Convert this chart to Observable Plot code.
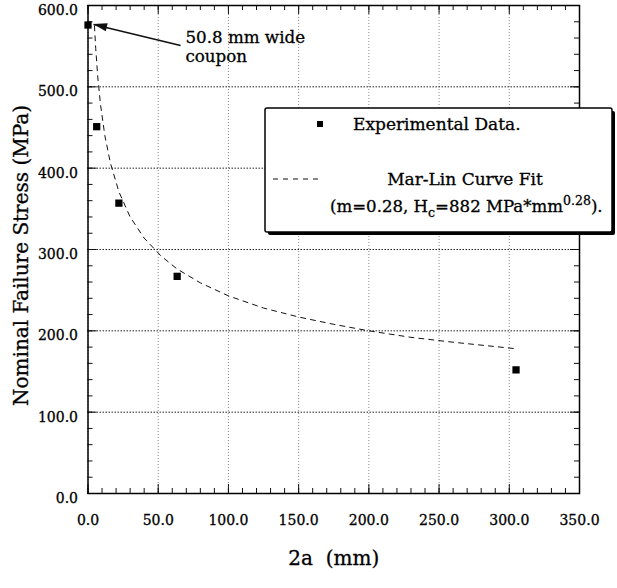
<!DOCTYPE html>
<html>
<head>
<meta charset="utf-8">
<script src="https://cdn.jsdelivr.net/npm/d3@7"></script>
<script src="https://cdn.jsdelivr.net/npm/@observablehq/plot@0.6"></script>
<style>
  body { margin: 0; background: #fff; }
  svg { display: block; }
  /* slightly heavier type, like the printed original */
  #chart svg text { stroke: #000; stroke-width: 0.3px; }
</style>
</head>
<body>
<div id="chart"></div>
<script>
// Measured coupons: crack length 2a (mm) vs nominal failure stress (MPa)
const crackLength = [0, 6.2, 22, 63.5, 304.8];
const failureStress = [576, 451, 357, 267, 152];

// Mar-Lin fit curve, sampled along the dashed line
const fitLength = [4.6, 5.5, 7, 9, 12, 16, 22, 30, 40, 52, 63.5, 80, 100, 125, 150, 175, 200, 230, 260, 304.8];
const fitStress = [575, 547, 511, 477, 440, 406, 371, 340, 314, 292, 276, 259, 243, 228, 217, 208, 200, 192, 186, 178];

// Axis ticks
const xTicks = [0, 50, 100, 150, 200, 250, 300, 350];
const yTicks = [0, 100, 200, 300, 400, 500, 600];
const xMinor = d3.range(0, 351, 10);
const yMinor = d3.range(0, 601, 20);

// Callout for the first coupon
const noteText = ["50.8 mm wide\ncoupon"];
const noteAt = [69.4, 571];
const arrowFrom = [65.9, 550.8];
const arrowTo = [4.0, 576.7];

const points = crackLength.map((x, i) => ({x, y: failureStress[i]}));
const fit = fitLength.map((x, i) => ({x, y: fitStress[i]}));

// pick the first installed serif face
function hasFont(name) {
  const ctx = document.createElement("canvas").getContext("2d");
  const s = "Nominal Failure Stress (MPa) 0123456789";
  return ["monospace", "sans-serif", "serif"].some(base => {
    ctx.font = `40px ${base}`;
    const w0 = ctx.measureText(s).width;
    ctx.font = `40px '${name}', ${base}`;
    return Math.abs(ctx.measureText(s).width - w0) > 0.5;
  });
}
const serifFace = ["DejaVu Serif", "Liberation Serif", "Noto Serif", "Tinos", "Times New Roman"].find(hasFont);
const font = serifFace ? `'${serifFace}', serif` : "serif";

const W = 617, H = 588;
const mTop = 5, mRight = 38, mBottom = 95, mLeft = 87.5;
const innerW = W - mLeft - mRight;
const innerH = H - mTop - mBottom;
const fmt = d => d.toFixed(1);
const ink = "#000";

const chart = Plot.plot({
  width: W,
  height: H,
  marginTop: mTop,
  marginRight: mRight,
  marginBottom: mBottom,
  marginLeft: mLeft,
  style: {fontFamily: font, fontSize: "14px", color: ink, background: "#fff"},
  x: {domain: [0, 350]},
  y: {domain: [0, 600]},
  marks: [
    Plot.gridX(xTicks, {stroke: "#888", strokeOpacity: 1, strokeDasharray: "1,2"}),
    Plot.gridY(yTicks, {stroke: "#222", strokeOpacity: 1, strokeDasharray: "1.5,1.5"}),

    // inward ticks on all four sides
    Plot.tickX(xMinor, {x: d => d, insetTop: innerH - 5, stroke: "#111"}),
    Plot.tickX(xTicks, {x: d => d, insetTop: innerH - 9, stroke: "#111"}),
    Plot.tickX(xMinor, {x: d => d, insetBottom: innerH - 5, stroke: "#111"}),
    Plot.tickX(xTicks, {x: d => d, insetBottom: innerH - 9, stroke: "#111"}),
    Plot.tickY(yMinor, {y: d => d, insetRight: innerW - 5, stroke: "#111"}),
    Plot.tickY(yTicks, {y: d => d, insetRight: innerW - 9, stroke: "#111"}),
    Plot.tickY(yMinor, {y: d => d, insetLeft: innerW - 5, stroke: "#111"}),
    Plot.tickY(yTicks, {y: d => d, insetLeft: innerW - 9, stroke: "#111"}),

    Plot.axisX(xTicks, {tickSize: 0, tickPadding: 22, tickFormat: fmt, label: null, fill: ink}),
    Plot.axisY(yTicks, {tickSize: 0, tickPadding: 10, tickFormat: fmt, label: null, dy: 5, fill: ink}),

    Plot.line(fit, {x: "x", y: "y", stroke: "#111", strokeWidth: 1, strokeDasharray: "5,5"}),
    Plot.dot(points, {x: "x", y: "y", symbol: "square", r: 4.1, fill: "#000", stroke: "none"}),

    Plot.link([0], {x1: arrowFrom[0], y1: arrowFrom[1], x2: arrowTo[0], y2: arrowTo[1], stroke: "#111", strokeWidth: 1.6}),
    Plot.text(noteText, {x: noteAt[0], y: noteAt[1], text: d => d, textAnchor: "start", lineAnchor: "top", fontSize: 16.7, lineHeight: 1.17, fill: ink}),

    Plot.text(["2a\u00a0 (mm)"], {text: d => d, frameAnchor: "bottom", lineAnchor: "middle", dy: 65, fontSize: 20, fill: ink}),
    Plot.text(["Nominal Failure Stress (MPa)"], {text: d => d, frameAnchor: "left", textAnchor: "middle", lineAnchor: "middle", rotate: -90, dx: -66, dy: 6, fontSize: 20, fill: ink}),

    Plot.frame({stroke: "#000", strokeWidth: 1.5})
  ]
});

document.getElementById("chart").append(chart);

const svg = d3.select(chart);
const sx = chart.scale("x"), sy = chart.scale("y");

// filled arrow head at the callout tip
{
  const tx = sx.apply(arrowTo[0]), ty = sy.apply(arrowTo[1]);
  const fx = sx.apply(arrowFrom[0]), fy = sy.apply(arrowFrom[1]);
  const len = Math.hypot(fx - tx, fy - ty);
  const ux = (fx - tx) / len, uy = (fy - ty) / len;
  const hl = 14, hw = 4;
  const bx = tx + ux * hl, by = ty + uy * hl;
  svg.append("path")
    .attr("d", `M${tx},${ty}L${bx - uy * hw},${by + ux * hw}L${bx + uy * hw},${by - ux * hw}Z`)
    .attr("fill", "#111");
}

// legend box with drop shadow
const lg = svg.append("g")
  .attr("font-family", font).attr("font-size", 17).attr("fill", ink).attr("text-anchor", "start");
lg.append("rect").attr("x", 268).attr("y", 111).attr("width", 347).attr("height", 124).attr("rx", 2).attr("fill", "#000");
lg.append("rect").attr("x", 265).attr("y", 108).attr("width", 347).attr("height", 124).attr("rx", 2)
  .attr("fill", "#fff").attr("stroke", "#000").attr("stroke-width", 1.5);

lg.append("rect").attr("x", 317).attr("y", 121).attr("width", 6).attr("height", 6).attr("fill", "#000");
lg.append("text").attr("x", 353).attr("y", 124).attr("dy", "0.35em").text("Experimental Data.");

lg.append("line").attr("x1", 273).attr("x2", 323).attr("y1", 179).attr("y2", 179)
  .attr("stroke", "#111").attr("stroke-dasharray", "5,5");
lg.append("text").attr("x", 465).attr("y", 179).attr("dy", "0.35em").attr("text-anchor", "middle").text("Mar-Lin Curve Fit");

const t2 = lg.append("text").attr("x", 330).attr("y", 212).attr("font-size", 16.6);
t2.append("tspan").text("(m=0.28, H");
t2.append("tspan").attr("font-size", 12.5).attr("dy", 5).text("c");
t2.append("tspan").attr("dy", -5).text("=882 MPa*mm");
t2.append("tspan").attr("font-size", 12.5).attr("dy", -7).text("0.28");
t2.append("tspan").attr("dy", 7).text(").");
</script>
</body>
</html>
